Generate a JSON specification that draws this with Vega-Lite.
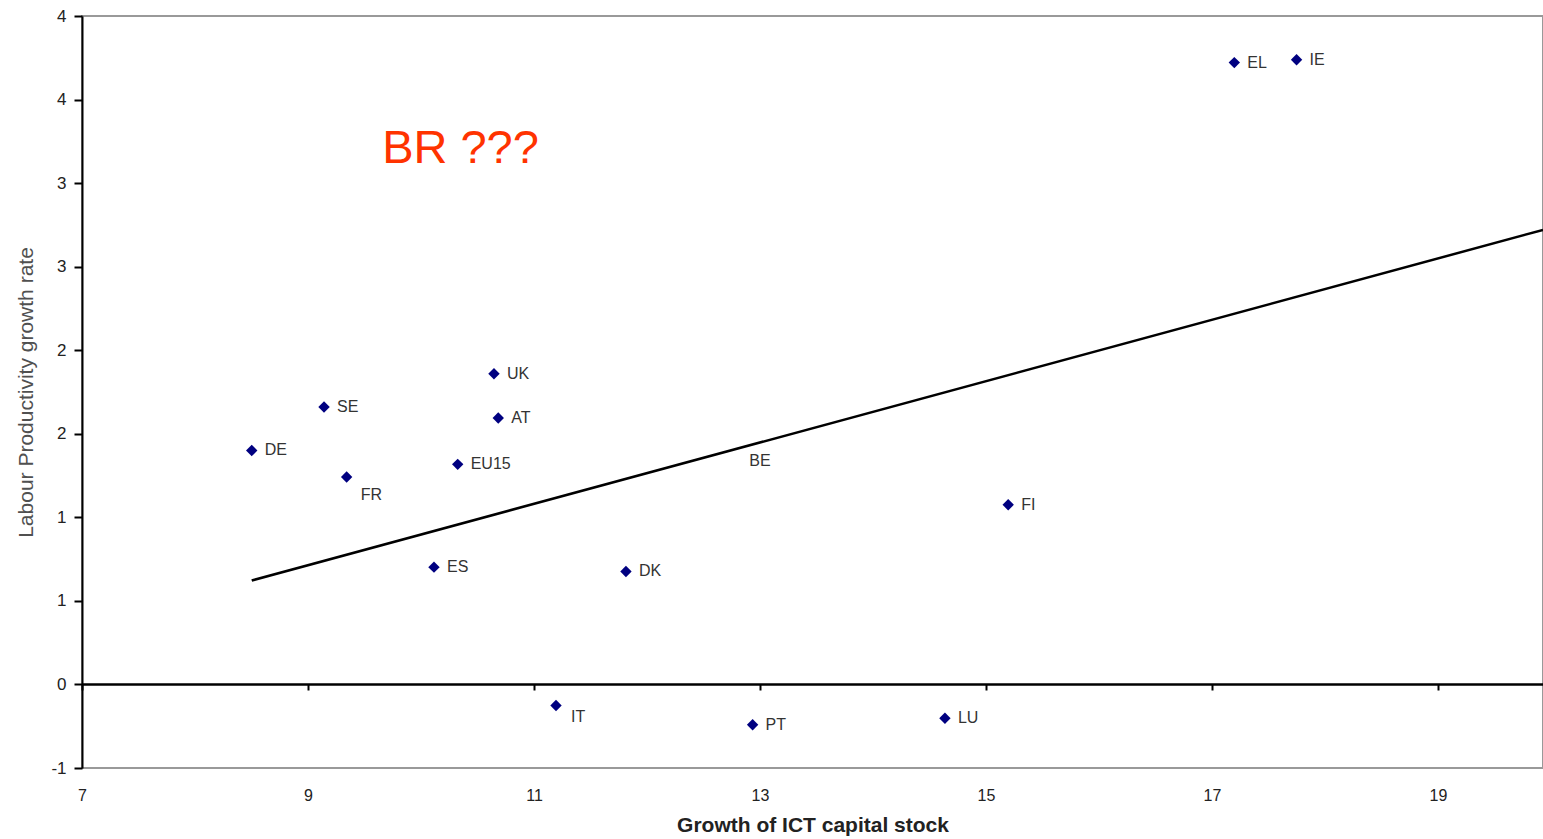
{
  "$schema": "https://vega.github.io/schema/vega-lite/v6.json",
  "width": 1461,
  "height": 752,
  "autosize": {"type": "none"},
  "padding": {"left": 82, "top": 16, "right": 0, "bottom": 71},
  "background": "white",
  "config": {"view": {"stroke": "#999999", "strokeWidth": 2}, "font": "Liberation Sans"},
  "datasets": {
    "points": [
      {"country": "DE", "ict": 8.502, "lp": 1.400},
      {"country": "SE", "ict": 9.142, "lp": 1.660},
      {"country": "FR", "ict": 9.342, "lp": 1.241},
      {"country": "EU15", "ict": 10.325, "lp": 1.317},
      {"country": "ES", "ict": 10.115, "lp": 0.702},
      {"country": "UK", "ict": 10.646, "lp": 1.859},
      {"country": "AT", "ict": 10.684, "lp": 1.594},
      {"country": "DK", "ict": 11.814, "lp": 0.676},
      {"country": "BE", "ict": 12.79, "lp": 1.335},
      {"country": "FI", "ict": 15.197, "lp": 1.075},
      {"country": "LU", "ict": 14.637, "lp": -0.202},
      {"country": "IT", "ict": 11.195, "lp": -0.126},
      {"country": "PT", "ict": 12.935, "lp": -0.241},
      {"country": "EL", "ict": 17.198, "lp": 3.721},
      {"country": "IE", "ict": 17.749, "lp": 3.738}
    ],
    "trend": [
      {"ict": 8.502, "lp": 0.622},
      {"ict": 19.93, "lp": 2.72}
    ],
    "note": [
      {"label": "BR ???", "ict": 10.35, "lp": 3.12}
    ]
  },
  "resolve": {"axis": {"x": "independent"}},
  "layer": [
    {
      "data": {"name": "trend"},
      "mark": {"type": "line", "color": "black", "strokeWidth": 2.5},
      "encoding": {
        "x": {
          "field": "ict", "type": "quantitative",
          "scale": {"domain": [7, 19.93], "nice": false, "zero": false},
          "axis": {
            "orient": "bottom", "offset": -84,
            "values": [7, 9, 11, 13, 15, 17, 19],
            "labels": false, "title": null, "grid": false,
            "domainColor": "black", "domainWidth": 2.5,
            "tickColor": "black", "tickWidth": 2, "tickSize": 6
          }
        },
        "y": {
          "field": "lp", "type": "quantitative",
          "scale": {"domain": [-0.5, 4], "nice": false, "zero": false},
          "axis": {
            "values": [-0.5, 0, 0.5, 1, 1.5, 2, 2.5, 3, 3.5, 4],
            "labelExpr": "datum.value < 0 ? '-1' : format(ceil(datum.value), 'd')",
            "grid": false, "labelFlush": false,
            "domainColor": "black", "domainWidth": 2,
            "tickColor": "black", "tickWidth": 2, "tickSize": 8,
            "labelPadding": 8, "labelFontSize": 17, "labelColor": "#222222",
            "title": "Labour Productivity growth rate",
            "titleFontSize": 21, "titleFontWeight": "normal", "titleColor": "#505050",
            "titlePadding": 14
          }
        }
      }
    },
    {
      "data": {"name": "points"},
      "transform": [{"filter": "datum.country !== 'BE'"}],
      "mark": {"type": "point", "shape": "diamond", "filled": true, "color": "#000080", "size": 130, "opacity": 1},
      "encoding": {
        "x": {
          "field": "ict", "type": "quantitative",
          "scale": {"domain": [7, 19.93], "nice": false, "zero": false},
          "axis": {
            "orient": "bottom",
            "values": [7, 9, 11, 13, 15, 17, 19],
            "domain": false, "ticks": false, "grid": false, "labelFlush": false,
            "labelPadding": 19, "labelFontSize": 16, "labelColor": "#222222",
            "title": "Growth of ICT capital stock",
            "titleFontSize": 21, "titleFontWeight": "bold", "titleColor": "#222222",
            "titlePadding": 11
          }
        },
        "y": {"field": "lp", "type": "quantitative"}
      }
    },
    {
      "data": {"name": "points"},
      "transform": [{"filter": "datum.country !== 'FR' && datum.country !== 'IT'"}],
      "mark": {"type": "text", "align": "left", "baseline": "middle", "dx": 13, "fontSize": 16, "color": "#333333"},
      "encoding": {
        "x": {"field": "ict", "type": "quantitative", "axis": null},
        "y": {"field": "lp", "type": "quantitative"},
        "text": {"field": "country"}
      }
    },
    {
      "data": {"name": "points"},
      "transform": [{"filter": "datum.country === 'FR'"}],
      "mark": {"type": "text", "align": "left", "baseline": "middle", "dx": 14, "dy": 18, "fontSize": 16, "color": "#333333"},
      "encoding": {
        "x": {"field": "ict", "type": "quantitative", "axis": null},
        "y": {"field": "lp", "type": "quantitative"},
        "text": {"field": "country"}
      }
    },
    {
      "data": {"name": "points"},
      "transform": [{"filter": "datum.country === 'IT'"}],
      "mark": {"type": "text", "align": "left", "baseline": "middle", "dx": 15, "dy": 11, "fontSize": 16, "color": "#333333"},
      "encoding": {
        "x": {"field": "ict", "type": "quantitative", "axis": null},
        "y": {"field": "lp", "type": "quantitative"},
        "text": {"field": "country"}
      }
    },
    {
      "data": {"name": "note"},
      "mark": {"type": "text", "align": "center", "baseline": "alphabetic", "fontSize": 47, "color": "#FF3300"},
      "encoding": {
        "x": {"field": "ict", "type": "quantitative", "axis": null},
        "y": {"field": "lp", "type": "quantitative"},
        "text": {"field": "label"}
      }
    }
  ]
}
